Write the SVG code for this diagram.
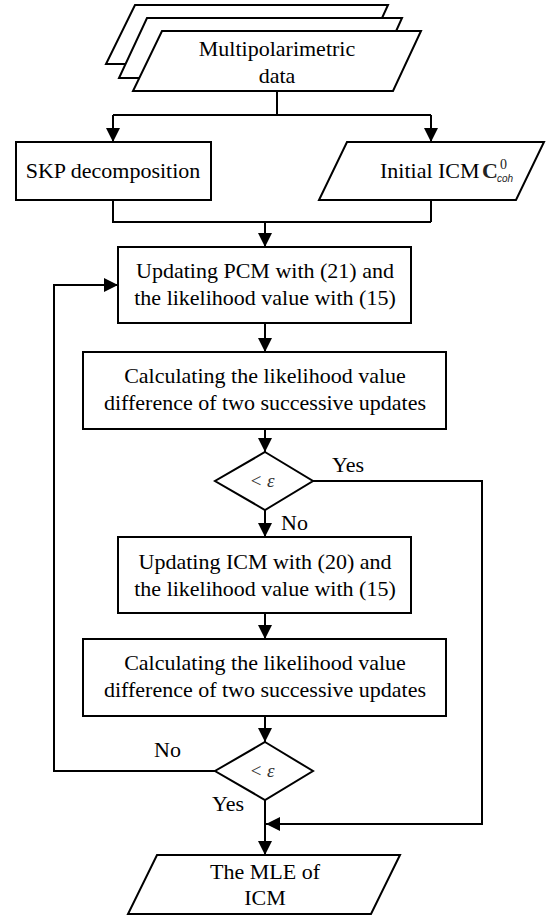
<svg xmlns="http://www.w3.org/2000/svg" width="551" height="922" viewBox="0 0 551 922">
<style>
.s{fill:#fff;stroke:#000;stroke-width:2}
.c{fill:none;stroke:#000;stroke-width:2}
text{font-family:"Liberation Serif","Times New Roman",serif;font-size:22px;fill:#000}
.m{text-anchor:middle}
.eps{font-size:19px;fill:#333;font-style:italic}
.sup{font-size:14px;fill:#222}
.sub{font-size:10px;font-style:italic;fill:#222;font-family:"Liberation Sans",Arial,sans-serif}
.b{font-weight:bold;fill:#222}
</style>
<defs>
<marker id="a" markerUnits="userSpaceOnUse" markerWidth="15" markerHeight="15" refX="14" refY="7" orient="auto">
<path d="M0,0 L14,7 L0,14 Z" fill="#000"/>
</marker>
</defs>
<rect width="551" height="922" fill="#fff"/>
<g id="connectors">
<path class="c" d="M277,91 V115 M113,115 H431"/>
<path class="c" d="M113,115 V142" marker-end="url(#a)"/>
<path class="c" d="M431,115 V142" marker-end="url(#a)"/>
<path class="c" d="M113,200 V222 H431 M431,200 V222"/>
<path class="c" d="M265,222 V247" marker-end="url(#a)"/>
<path class="c" d="M265,323 V352" marker-end="url(#a)"/>
<path class="c" d="M265,429 V452" marker-end="url(#a)"/>
<path class="c" d="M265,510 V537" marker-end="url(#a)"/>
<path class="c" d="M265,613 V639" marker-end="url(#a)"/>
<path class="c" d="M265,716 V742" marker-end="url(#a)"/>
<path class="c" d="M265,800 V855" marker-end="url(#a)"/>
<path class="c" d="M313,481 H482 V824 H266" marker-end="url(#a)"/>
<path class="c" d="M215,771 H54 V285 H118" marker-end="url(#a)"/>
<text x="332" y="472">Yes</text>
<text x="281" y="530">No</text>
<text x="154" y="757">No</text>
<text x="212" y="811">Yes</text>
</g>
<g id="data">
<polygon class="s" points="135,5 388,5 361,64 106,64"/>
<polygon class="s" points="147,18 402,18 375,78 119,78"/>
<polygon class="s" points="162,31 421,31 393,91 133,91"/>
<text class="m" x="277" y="56">Multipolarimetric</text>
<text class="m" x="277" y="83">data</text>
</g>
<g id="skp">
<rect class="s" x="16" y="142" width="195" height="58"/>
<text class="m" x="113" y="178">SKP decomposition</text>
</g>
<g id="initial">
<polygon class="s" points="347,142 544,142 516,200 319,200"/>
<text x="380" y="178">Initial ICM</text>
<text class="b" x="482" y="178">C</text>
<text class="sup" x="500" y="169">0</text>
<text class="sub" x="497" y="182">coh</text>
</g>
<g id="update-pcm">
<rect class="s" x="118" y="247" width="293" height="76"/>
<text class="m" x="265" y="278">Updating PCM with (21) and</text>
<text class="m" x="265" y="305">the likelihood value with (15)</text>
</g>
<g id="calc1">
<rect class="s" x="83" y="352" width="363" height="77"/>
<text class="m" x="265" y="383">Calculating the likelihood value</text>
<text class="m" x="265" y="410">difference of two successive updates</text>
</g>
<g id="dec1">
<polygon class="s" points="265,452 313,481 265,510 215,481"/>
<text class="m eps" x="262" y="487">&lt; ε</text>
</g>
<g id="update-icm">
<rect class="s" x="118" y="537" width="293" height="76"/>
<text class="m" x="265" y="569">Updating ICM with (20) and</text>
<text class="m" x="265" y="596">the likelihood value with (15)</text>
</g>
<g id="calc2">
<rect class="s" x="83" y="639" width="363" height="77"/>
<text class="m" x="265" y="670">Calculating the likelihood value</text>
<text class="m" x="265" y="697">difference of two successive updates</text>
</g>
<g id="dec2">
<polygon class="s" points="265,742 313,771 265,800 215,771"/>
<text class="m eps" x="262" y="777">&lt; ε</text>
</g>
<g id="mle">
<polygon class="s" points="157,855 400,855 371,914 128,914"/>
<text class="m" x="265" y="879">The MLE of</text>
<text class="m" x="265" y="905">ICM</text>
</g>
</svg>
